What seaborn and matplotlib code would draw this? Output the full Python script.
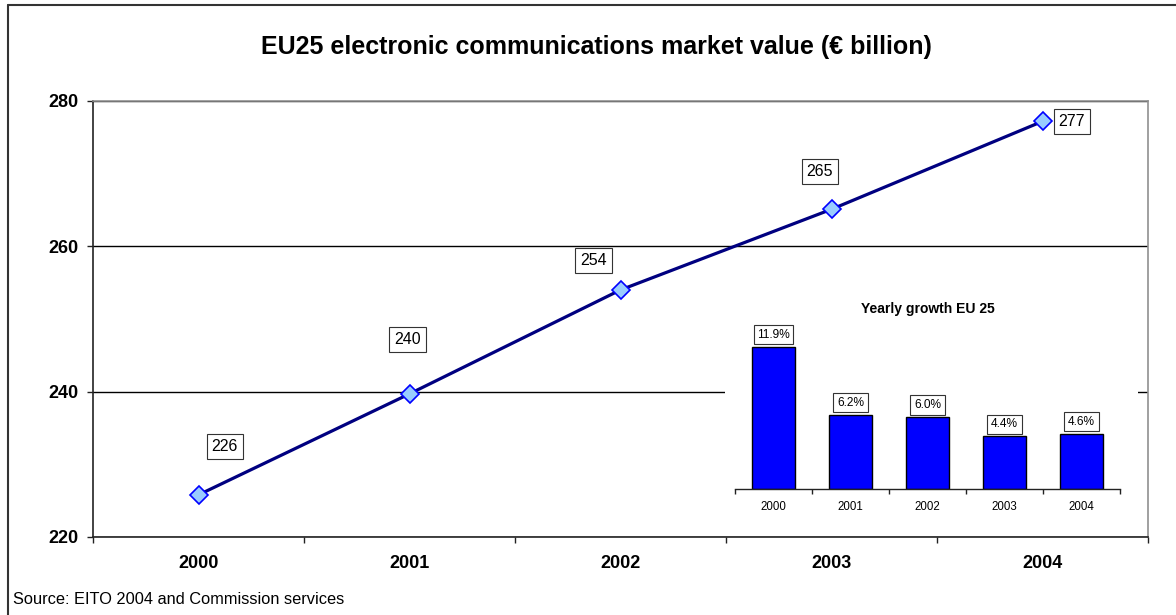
import matplotlib
matplotlib.use("Agg")

import numpy as np
import pandas as pd
import seaborn as sns
import matplotlib.pyplot as plt
from matplotlib.patches import Rectangle
from matplotlib.lines import Line2D

# chart data
years = ["2000", "2001", "2002", "2003", "2004"]
market_value = [225.8, 239.7, 254.0, 265.1, 277.2]
value_labels = ["226", "240", "254", "265", "277"]
growth = [11.9, 6.2, 6.0, 4.4, 4.6]
growth_labels = ["11.9%", "6.2%", "6.0%", "4.4%", "4.6%"]

# where the boxed value labels sit relative to each point (points)
label_offsets = [(19, 35), (-1.5, 39), (-19.5, 21), (-8.5, 27), (21, 0)]

W, H = 1176, 615

sns.set_style("white", {"text.color": "black", "xtick.color": "black",
                        "ytick.color": "black", "axes.labelcolor": "black"})
plt.rcParams["font.family"] = ["Liberation Sans", "DejaVu Sans"]

fig = plt.figure(figsize=(W / 100, H / 100), dpi=100)

# main line chart
ax = fig.add_axes([93 / W, 1 - 537 / H, (1148 - 93) / W, (537 - 101) / H])
df = pd.DataFrame({"pos": np.arange(len(years)), "value": market_value})
sns.lineplot(data=df, x="pos", y="value", ax=ax, color="#000080", lw=2.3,
             marker="D", markersize=9, markerfacecolor="#99CCFF",
             markeredgecolor="#0000FF", markeredgewidth=1.2, zorder=3)

ax.set_xlim(-0.5, len(years) - 0.5)
ax.set_ylim(220, 280)
ax.set_yticks([220, 240, 260, 280])
ax.set_xticks(np.arange(len(years)))
ax.set_xticklabels(years)
ax.set_xticks(np.arange(-0.5, len(years), 1), minor=True)
ax.set_xlabel("")
ax.set_ylabel("")

ax.grid(axis="y", color="black", lw=1)
ax.grid(axis="x", visible=False, which="both")
ax.set_axisbelow(True)

for side in ["left", "bottom"]:
    ax.spines[side].set_color("#222222")
    ax.spines[side].set_linewidth(1.2)
for side in ["top", "right"]:
    ax.spines[side].set_color("#909090")
    ax.spines[side].set_linewidth(1.2)

ax.tick_params(axis="y", which="major", left=True, length=4.3, width=1,
               direction="out", pad=6, labelsize=13, color="#222222")
ax.tick_params(axis="x", which="major", bottom=True, length=0, pad=13, labelsize=13)
ax.tick_params(axis="x", which="minor", bottom=True, length=4.3, width=1,
               direction="out", color="#222222")
for lab in ax.get_xticklabels() + ax.get_yticklabels():
    lab.set_fontweight("bold")

for i, (v, lab, off) in enumerate(zip(market_value, value_labels, label_offsets)):
    ax.annotate(lab, (i, v), xytext=off, textcoords="offset points",
                ha="center", va="center", fontsize=11.5, zorder=4,
                bbox=dict(boxstyle="square,pad=0.3", fc="white", ec="#333333", lw=0.8))

# white area behind the inset
fig.add_artist(Rectangle((725 / W, 1 - 525 / H), (1138 - 725) / W, (525 - 295) / H,
                         transform=fig.transFigure, fc="white", ec="none", zorder=1))

# inset bar chart
ax_in = fig.add_axes([735 / W, 1 - 489 / H, (1120 - 735) / W, (489 - 330) / H], zorder=2)
ax_in.patch.set_alpha(0)
gdf = pd.DataFrame({"year": years, "growth": growth})
sns.barplot(data=gdf, x="year", y="growth", ax=ax_in, color="#0000FF",
            saturation=1, edgecolor="black", linewidth=1, width=0.57)
ax_in.set_xlim(-0.5, len(years) - 0.5)
ax_in.set_ylim(0, 13.3)
ax_in.set_yticks([])
ax_in.set_xlabel("")
ax_in.set_ylabel("")
for side in ["left", "top", "right"]:
    ax_in.spines[side].set_visible(False)
ax_in.spines["bottom"].set_color("#222222")
ax_in.spines["bottom"].set_linewidth(1)
ax_in.set_xticks(np.arange(-0.5, len(years), 1), minor=True)
ax_in.tick_params(axis="x", which="major", bottom=True, length=0, pad=9, labelsize=8.3)
ax_in.tick_params(axis="x", which="minor", bottom=True, length=3.5, width=1,
                  direction="out", color="#222222")
ax_in.set_title("Yearly growth EU 25", fontsize=10, fontweight="bold", pad=12)

for i, (g, lab) in enumerate(zip(growth, growth_labels)):
    ax_in.annotate(lab, (i, g), xytext=(0, 8.8), textcoords="offset points",
                   ha="center", va="center", fontsize=8.6,
                   bbox=dict(boxstyle="square,pad=0.3", fc="white", ec="#333333", lw=0.8))

# titles and frame
fig.text(596 / W, 1 - 47 / H, "EU25 electronic communications market value (€ billion)",
         ha="center", va="center", fontsize=18, fontweight="bold")
fig.text(13 / W, 1 - 600 / H, "Source: EITO 2004 and Commission services",
         ha="left", va="center", fontsize=11.8)
fig.add_artist(Line2D([8 / W, 1], [1 - 5 / H, 1 - 5 / H], transform=fig.transFigure,
                      color="#333333", lw=1.5))
fig.add_artist(Line2D([8 / W, 8 / W], [0, 1 - 5 / H], transform=fig.transFigure,
                      color="#333333", lw=1.5))

fig.savefig("out.png", dpi=100)
